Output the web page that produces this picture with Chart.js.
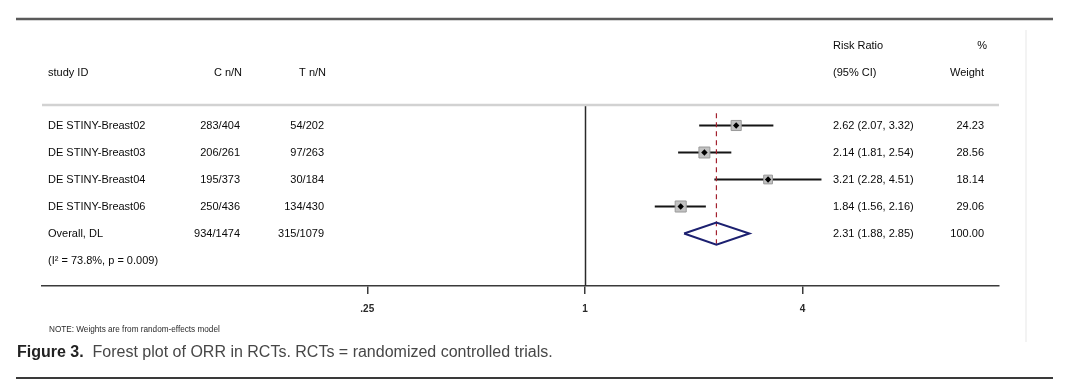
<!DOCTYPE html>
<html>
<head>
<meta charset="utf-8">
<script src="https://cdn.jsdelivr.net/npm/chart.js@4.4.1/dist/chart.umd.min.js"></script>
<style>
  html, body { margin: 0; padding: 0; background: #ffffff; }
  #wrap { width: 1080px; height: 380px; position: relative; }
</style>
</head>
<body>
<div id="wrap"><canvas id="c" width="1080" height="380"></canvas></div>
<script>
// ---------- data ----------
const studies  = ['DE STINY-Breast02', 'DE STINY-Breast03', 'DE STINY-Breast04', 'DE STINY-Breast06'];
const cCounts  = ['283/404', '206/261', '195/373', '250/436'];
const tCounts  = ['54/202', '97/263', '30/184', '134/430'];
const rr       = [2.62, 2.14, 3.21, 1.84];
const ciLow    = [2.07, 1.81, 2.28, 1.56];
const ciHigh   = [3.32, 2.54, 4.51, 2.16];
const weights  = [24.23, 28.56, 18.14, 29.06];

const overallLabel  = 'Overall, DL';
const overallC      = '934/1474';
const overallT      = '315/1079';
const overallRR     = 2.31;
const overallLow    = 1.88;
const overallHigh   = 2.85;
const overallWeight = 100.00;
const heterogeneity = '(I\u00B2 = 73.8%, p = 0.009)';

const tickValues = [0.25, 1, 4];
const tickLabels = ['.25', '1', '4'];

const headers = { study: 'study ID', c: 'C n/N', t: 'T n/N', rr1: 'Risk Ratio', rr2: '(95% CI)', w1: '%', w2: 'Weight' };
const noteText = 'NOTE: Weights are from random-effects model';
const captionBold = 'Figure 3.';
const captionText = '  Forest plot of ORR in RCTs. RCTs = randomized controlled trials.';

// ---------- derived ----------
const rowsY = studies.map((_, i) => i + 1);   // row positions on the y scale
const overallY = studies.length + 1;
const hetY = studies.length + 2;

const FONT = '"Liberation Sans", Arial, sans-serif';

const datasets = [];
// CI lines
studies.forEach((s, i) => {
  datasets.push({
    type: 'line', data: [{ x: ciLow[i], y: rowsY[i] }, { x: ciHigh[i], y: rowsY[i] }],
    borderColor: '#151515', borderWidth: 2, pointRadius: 0, order: 5
  });
});
// reference dashed line at overall estimate
datasets.push({
  type: 'line', data: [{ x: overallRR, y: 0.55 }, { x: overallRR, y: overallY + 0.38 }],
  borderColor: '#a3212f', borderWidth: 1.2, borderDash: [5, 4], pointRadius: 0, order: 4
});
// weight squares
datasets.push({
  type: 'scatter', data: rr.map((v, i) => ({ x: v, y: rowsY[i] })),
  pointStyle: 'rect',
  pointRadius: weights.map(w => 2.05 * Math.sqrt(w) / Math.SQRT2),
  backgroundColor: '#c2c2c2', borderColor: '#999999', borderWidth: 1, order: 3
});
// point estimates
datasets.push({
  type: 'scatter', data: rr.map((v, i) => ({ x: v, y: rowsY[i] })),
  pointStyle: 'rectRot', pointRadius: 3.2,
  backgroundColor: '#000000', borderColor: '#000000', borderWidth: 0, order: 2
});
// overall diamond
const dh = 0.41;
datasets.push({
  type: 'line',
  data: [
    { x: overallLow, y: overallY }, { x: overallRR, y: overallY - dh },
    { x: overallHigh, y: overallY }, { x: overallRR, y: overallY + dh },
    { x: overallLow, y: overallY }
  ],
  borderColor: '#1c2070', borderWidth: 2, pointRadius: 0, fill: false, order: 1,
  borderJoinStyle: 'miter'
});

const decor = {
  id: 'decor',
  beforeDatasetsDraw(chart) {
    const { ctx, chartArea: a, scales: { x } } = chart;
    ctx.save();
    // null line at RR = 1
    const x1 = Math.round(x.getPixelForValue(1)) + 0.5;
    ctx.strokeStyle = '#2a2a2a'; ctx.lineWidth = 1.5;
    ctx.beginPath(); ctx.moveTo(x1, a.top); ctx.lineTo(x1, a.bottom); ctx.stroke();
    // header separator
    ctx.strokeStyle = '#d2d2d2'; ctx.lineWidth = 2.5;
    ctx.beginPath(); ctx.moveTo(a.left, a.top); ctx.lineTo(a.right, a.top); ctx.stroke();
    ctx.restore();
  },
  afterDraw(chart) {
    const { ctx, chartArea: a, scales: { y } } = chart;
    ctx.save();
    // frame lines
    ctx.strokeStyle = '#5a5a5a'; ctx.lineWidth = 2.5;
    ctx.beginPath(); ctx.moveTo(16, 19); ctx.lineTo(1053, 19); ctx.stroke();
    ctx.strokeStyle = '#3a3a3a'; ctx.lineWidth = 2;
    ctx.beginPath(); ctx.moveTo(16, 378); ctx.lineTo(1053, 378); ctx.stroke();
    ctx.strokeStyle = '#efefef'; ctx.lineWidth = 1.5;
    ctx.beginPath(); ctx.moveTo(1026, 30); ctx.lineTo(1026, 342); ctx.stroke();

    // text columns
    const xs = { study: 48, c: 240, t: 324, rr: 833, w: 984 };
    ctx.fillStyle = '#0a0a0a';
    ctx.font = '11px ' + FONT;
    ctx.textBaseline = 'middle';
    const put = (txt, px, py, align) => { ctx.textAlign = align; ctx.fillText(txt, px, py); };

    // headers
    put(headers.study, xs.study, 73, 'left');
    put(headers.c, xs.c + 2, 73, 'right');
    put(headers.t, xs.t + 2, 73, 'right');
    put(headers.rr1, xs.rr, 46, 'left');
    put(headers.rr2, xs.rr, 73, 'left');
    put(headers.w1, xs.w + 3, 46, 'right');
    put(headers.w2, xs.w, 73, 'right');

    studies.forEach((s, i) => {
      const py = y.getPixelForValue(rowsY[i]);
      put(s, xs.study, py, 'left');
      put(cCounts[i], xs.c, py, 'right');
      put(tCounts[i], xs.t, py, 'right');
      put(rr[i].toFixed(2) + ' (' + ciLow[i].toFixed(2) + ', ' + ciHigh[i].toFixed(2) + ')', xs.rr, py, 'left');
      put(weights[i].toFixed(2), xs.w, py, 'right');
    });
    const oy = y.getPixelForValue(overallY);
    put(overallLabel, xs.study, oy, 'left');
    put(overallC, xs.c, oy, 'right');
    put(overallT, xs.t, oy, 'right');
    put(overallRR.toFixed(2) + ' (' + overallLow.toFixed(2) + ', ' + overallHigh.toFixed(2) + ')', xs.rr, oy, 'left');
    put(overallWeight.toFixed(2), xs.w, oy, 'right');
    put(heterogeneity, xs.study, y.getPixelForValue(hetY), 'left');

    // note
    ctx.font = '8.2px ' + FONT;
    ctx.fillStyle = '#2a2a2a';
    put(noteText, 49, 330, 'left');

    // caption
    ctx.font = 'bold 16px ' + FONT;
    ctx.fillStyle = '#222222';
    put(captionBold, 17, 353, 'left');
    const bw = ctx.measureText(captionBold).width;
    ctx.font = '16px ' + FONT;
    ctx.fillStyle = '#474747';
    put(captionText, 17 + bw, 353, 'left');
    ctx.restore();
  }
};

new Chart(document.getElementById('c'), {
  data: { datasets },
  options: {
    responsive: false,
    animation: false,
    events: [],
    layout: { padding: { left: 42, right: 81, top: 105, bottom: 64 } },
    plugins: { legend: { display: false }, tooltip: { enabled: false } },
    scales: {
      x: {
        type: 'logarithmic',
        min: 0.0315, max: 13.97,
        afterBuildTicks: s => { s.ticks = tickValues.map(v => ({ value: v })); },
        afterFit: s => { s.height = 30; },
        ticks: {
          autoSkip: false, maxRotation: 0, padding: 9,
          color: '#2a2a2a', font: { size: 10, family: FONT, weight: 'bold' },
          callback: (v, i) => tickLabels[i]
        },
        grid: { display: true, drawOnChartArea: false, drawTicks: true, tickLength: 8, color: '#3a3a3a', lineWidth: 1.5 },
        border: { display: true, color: '#3a3a3a', width: 1.5 }
      },
      y: {
        type: 'linear', reverse: true, min: 0.241, max: 6.944, display: false
      }
    }
  },
  plugins: [decor]
});
</script>
</body>
</html>
